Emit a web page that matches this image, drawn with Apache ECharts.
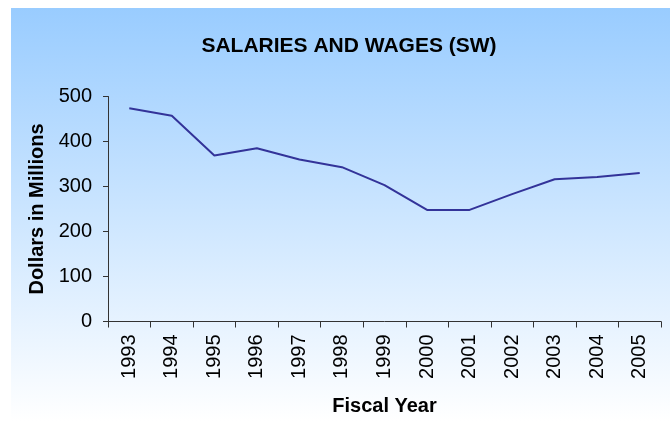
<!DOCTYPE html>
<html><head><meta charset="utf-8">
<script src="https://cdn.jsdelivr.net/npm/echarts@6/dist/echarts.min.js"></script>
<style>html,body{margin:0;padding:0;background:#fff}#c{width:670px;height:423px}</style>
</head><body><div id="c"></div>
<script>
var years = ['1993','1994','1995','1996','1997','1998','1999','2000','2001','2002','2003','2004','2005'];
var salaries = [474, 457, 369, 385, 360, 343, 303, 248, 248, 283, 316, 321, 330];
var chart = echarts.init(document.getElementById('c'));
var FF = '"Liberation Sans", Arial, sans-serif';
chart.setOption({
  animation: false,
  graphic: [{
    type: 'rect', z: -10, silent: true,
    shape: {x: 11, y: 8, width: 659, height: 413},
    style: {fill: new echarts.graphic.LinearGradient(0,0,0,1,[{offset:0,color:'#99CCFF'},{offset:1,color:'#FFFFFF'}])}
  }],
  title: {
    text: 'SALARIES AND WAGES (SW)', left: 344, top: 31, textAlign: 'center',
    textStyle: {fontFamily: FF, fontWeight: 'bold', fontSize: 21, color: '#000'}
  },
  grid: {left: 108, right: 9, top: 96.5, bottom: 101.5, containLabel: false, outerBoundsMode: 'none'},
  xAxis: {
    type: 'category', data: years, boundaryGap: true,
    name: 'Fiscal Year', nameLocation: 'middle', nameGap: 75,
    nameTextStyle: {fontFamily: FF, fontWeight: 'bold', fontSize: 20, color: '#000'},
    axisLine: {lineStyle: {color: '#333', width: 1}},
    axisTick: {show: true, length: 6, lineStyle: {color: '#333'}},
    axisLabel: {rotate: 90, margin: 13, fontFamily: FF, fontSize: 20, color: '#000'}
  },
  yAxis: {
    type: 'value', min: 0, max: 500, interval: 100,
    name: 'Dollars in Millions', nameLocation: 'middle', nameGap: 58, nameRotate: 90,
    nameTextStyle: {fontFamily: FF, fontWeight: 'bold', fontSize: 20, color: '#000'},
    axisLine: {show: true, lineStyle: {color: '#333', width: 1}},
    axisTick: {show: true, length: 5, lineStyle: {color: '#333'}},
    axisLabel: {margin: 16, fontFamily: FF, fontSize: 20, color: '#000'},
    splitLine: {show: false}
  },
  series: [{
    type: 'line', data: salaries, symbol: 'none',
    lineStyle: {color: '#333399', width: 2}
  }]
});
</script></body></html>
